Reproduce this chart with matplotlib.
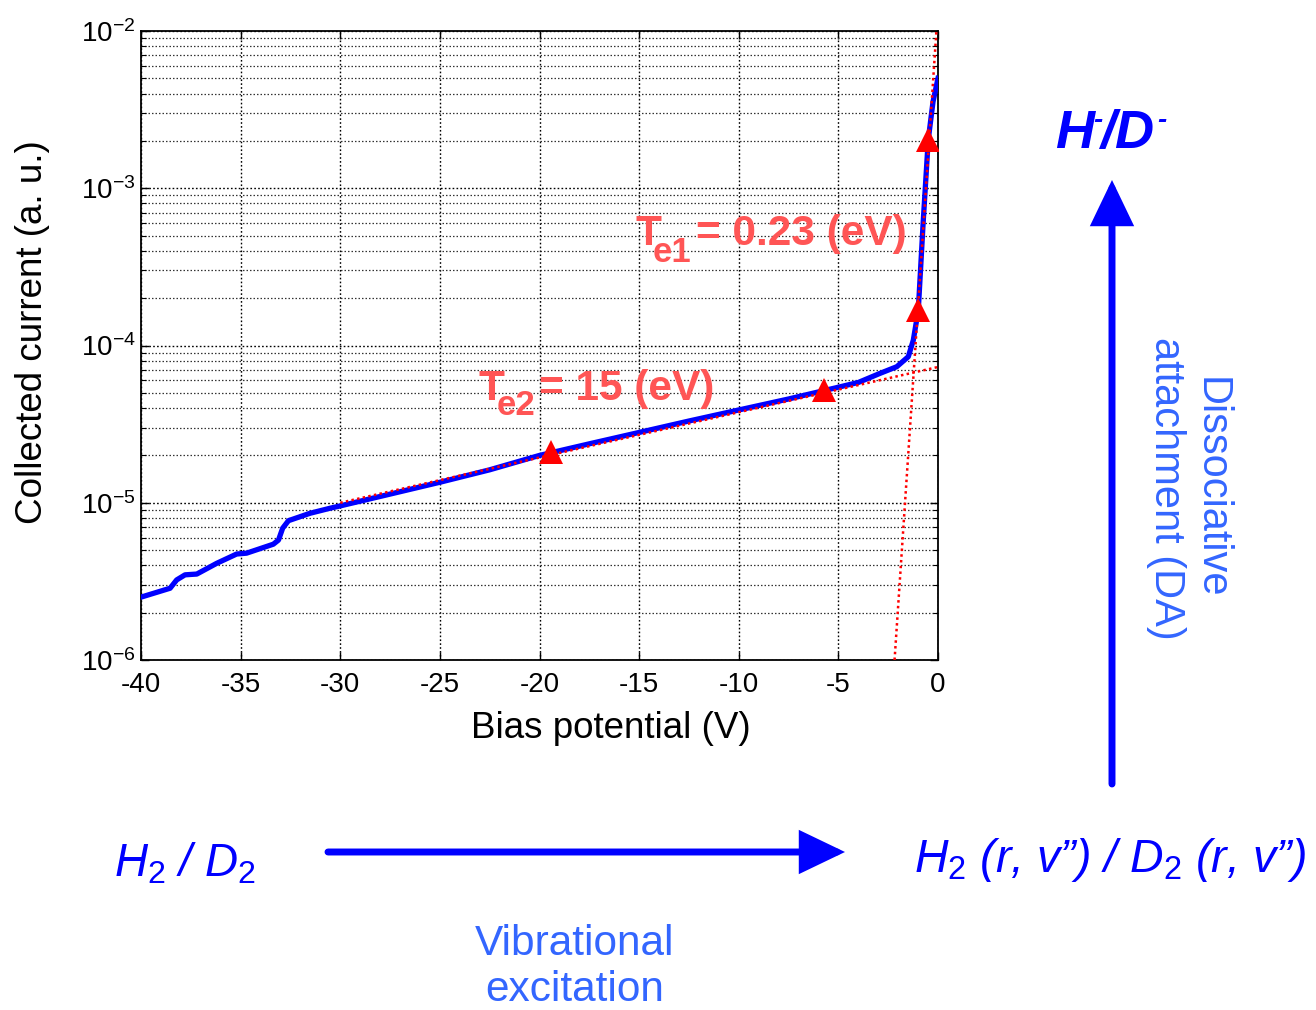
import numpy as np
import matplotlib
matplotlib.use("Agg")
import matplotlib.pyplot as plt
from matplotlib.patches import FancyArrowPatch
from matplotlib.ticker import LogLocator, NullFormatter

plt.rcParams['font.family'] = ['Liberation Sans', 'DejaVu Sans']
plt.rcParams['mathtext.fontset'] = 'custom'
plt.rcParams['mathtext.rm'] = 'Liberation Sans'
plt.rcParams['mathtext.it'] = 'Liberation Sans:italic'
plt.rcParams['mathtext.bf'] = 'Liberation Sans:bold'
plt.rcParams['axes.unicode_minus'] = False

# ---------------- data ----------------
bias_v = [-40.0, -38.54, -38.21, -37.79, -37.2, -36.2, -35.2, -34.7, -33.36, -33.1,
          -32.89, -32.6, -31.52, -30.51, -30.0, -27.5, -25.0, -22.5, -20.0, -17.5,
          -15.0, -12.5, -10.0, -7.5, -5.0, -4.0, -2.91, -2.07, -1.49, -1.24,
          -1.10, -0.99, -0.75, -0.49, -0.25, 0.0]
current = [2.51e-6, 2.86e-6, 3.23e-6, 3.48e-6, 3.52e-6, 4.12e-6, 4.72e-6, 4.78e-6, 5.45e-6, 5.79e-6,
           6.89e-6, 7.69e-6, 8.57e-6, 9.23e-6, 9.55e-6, 1.135e-5, 1.35e-5, 1.62e-5, 2.0e-5, 2.37e-5,
           2.80e-5, 3.31e-5, 3.89e-5, 4.57e-5, 5.43e-5, 5.82e-5, 6.65e-5, 7.33e-5, 8.49e-5, 1.08e-4,
           1.38e-4, 1.67e-4, 5.9e-4, 2.03e-3, 3.55e-3, 5.0e-3]

fit1_v = [-2.18, -0.08]
fit1_i = [1e-6, 1e-2]
fit2_v = [-30.0, 0.0]
fit2_i = [1.0e-5, 7.3e-5]

marker_v = [-19.42, -5.7, -0.99, -0.49]
marker_i = [2.1e-5, 5.2e-5, 1.67e-4, 2.03e-3]

x_ticks = [-40, -35, -30, -25, -20, -15, -10, -5, 0]

W, H = 1316, 1010
fig = plt.figure(figsize=(W / 100, H / 100), dpi=100)


def fx(px):
    return px / W


def fy(py):
    return 1 - py / H


ax = fig.add_axes([fx(141), fy(660), fx(938) - fx(141), fy(31) - fy(660)])
ax.set_yscale('log')
ax.set_xlim(-40, 0)
ax.set_ylim(1e-6, 1e-2)

ax.plot(bias_v, current, color='#0000FF', lw=3.8, solid_joinstyle='round', zorder=3)
ax.plot(fit1_v, fit1_i, color='#FF0000', lw=1.8, linestyle=(0, (1, 1.3)), zorder=4)
ax.plot(fit2_v, fit2_i, color='#FF0000', lw=1.8, linestyle=(0, (1, 1.3)), zorder=4)
ax.plot(marker_v, marker_i, linestyle='none', marker='^', color='#FF0000',
        markersize=17, markeredgewidth=0, zorder=5)

ax.set_xticks(x_ticks)
ax.set_xticklabels([str(t) for t in x_ticks])
ax.yaxis.set_major_locator(LogLocator(base=10, numticks=10))
ax.yaxis.set_minor_locator(LogLocator(base=10, subs=np.arange(2, 10), numticks=50))
ax.yaxis.set_minor_formatter(NullFormatter())

ax.tick_params(axis='both', which='both', direction='in', top=True, right=True,
               labelsize=20, colors='black')
ax.tick_params(axis='x', which='major', length=6, width=1, pad=9)
ax.tick_params(axis='y', which='major', length=6, width=1, pad=4)
ax.tick_params(axis='y', which='minor', length=3.5, width=0.8)

ax.grid(True, which='major', axis='both', color='black', linestyle=(0, (1.2, 1.6)), lw=1.0)
ax.grid(True, which='minor', axis='y', color='#333333', linestyle=(0, (1.2, 1.6)), lw=0.9)
ax.set_axisbelow(True)
for s in ax.spines.values():
    s.set_linewidth(1.3)

# axis labels
fig.text(fx(611), fy(728), 'Bias potential (V)', fontsize=26.5, ha='center', va='center')
fig.text(fx(33), fy(332), 'Collected current (a. u.)', fontsize=26.5, rotation=90,
         ha='center', va='center')

# fit annotations (T, subscript, rest)
red_txt = '#FF5555'
fig.text(fx(636), fy(245), 'T', fontsize=30.5, fontweight='bold', color=red_txt,
         ha='left', va='baseline')
fig.text(fx(653), fy(262), 'e1', fontsize=25, fontweight='bold', color=red_txt,
         ha='left', va='baseline')
fig.text(fx(696), fy(245), '= 0.23 (eV)', fontsize=30.5, fontweight='bold', color=red_txt,
         ha='left', va='baseline')

fig.text(fx(479), fy(400), 'T', fontsize=30.5, fontweight='bold', color=red_txt,
         ha='left', va='baseline')
fig.text(fx(497), fy(415), 'e2', fontsize=25, fontweight='bold', color=red_txt,
         ha='left', va='baseline')
fig.text(fx(539), fy(400), '= 15 (eV)', fontsize=30.5, fontweight='bold', color=red_txt,
         ha='left', va='baseline')

# diagram
blue = '#0000FF'
light_blue = '#3366FF'
fig.text(fx(1055), fy(148), 'H', fontsize=39, fontweight='bold', style='italic', color=blue,
         ha='left', va='baseline')
fig.text(fx(1093), fy(128), '-', fontsize=20, fontweight='bold', style='italic', color=blue,
         ha='left', va='baseline')
fig.text(fx(1100), fy(148), '/D', fontsize=39, fontweight='bold', style='italic', color=blue,
         ha='left', va='baseline')
fig.text(fx(1157), fy(128), '-', fontsize=20, fontweight='bold', style='italic', color=blue,
         ha='left', va='baseline')

fig.text(fx(114), fy(877), r'$\mathit{H}_{\mathit{2}}$ / $\mathit{D}_{\mathit{2}}$',
         fontsize=33, style='italic', color=blue, ha='left', va='baseline')
fig.text(fx(914), fy(872),
         '$\\mathit{H}_{\\mathit{2}}$ (r, v\u201d) / $\\mathit{D}_{\\mathit{2}}$ (r, v\u201d)',
         fontsize=33.5, style='italic', color=blue, ha='left', va='baseline')
fig.text(fx(575), fy(955), 'Vibrational', fontsize=30.5, color=light_blue,
         ha='center', va='baseline')
fig.text(fx(575), fy(1001), 'excitation', fontsize=30.5, color=light_blue,
         ha='center', va='baseline')
fig.text(fx(1188), fy(488), 'Dissociative\nattachment (DA)', fontsize=30, color=light_blue,
         rotation=-90, ha='center', va='center', multialignment='center', linespacing=1.15)

arr_h = FancyArrowPatch((fx(328), fy(852)), (fx(845), fy(852)), transform=fig.transFigure,
                        arrowstyle='-|>,head_length=25,head_width=12', mutation_scale=1,
                        color=blue, lw=5, shrinkA=0, shrinkB=0, joinstyle='miter')
arr_v = FancyArrowPatch((fx(1112), fy(784)), (fx(1112), fy(180)), transform=fig.transFigure,
                        arrowstyle='-|>,head_length=25,head_width=12', mutation_scale=1,
                        color=blue, lw=5, shrinkA=0, shrinkB=0, joinstyle='miter')
fig.patches.extend([arr_h, arr_v])

fig.savefig('out.png', dpi=100)
